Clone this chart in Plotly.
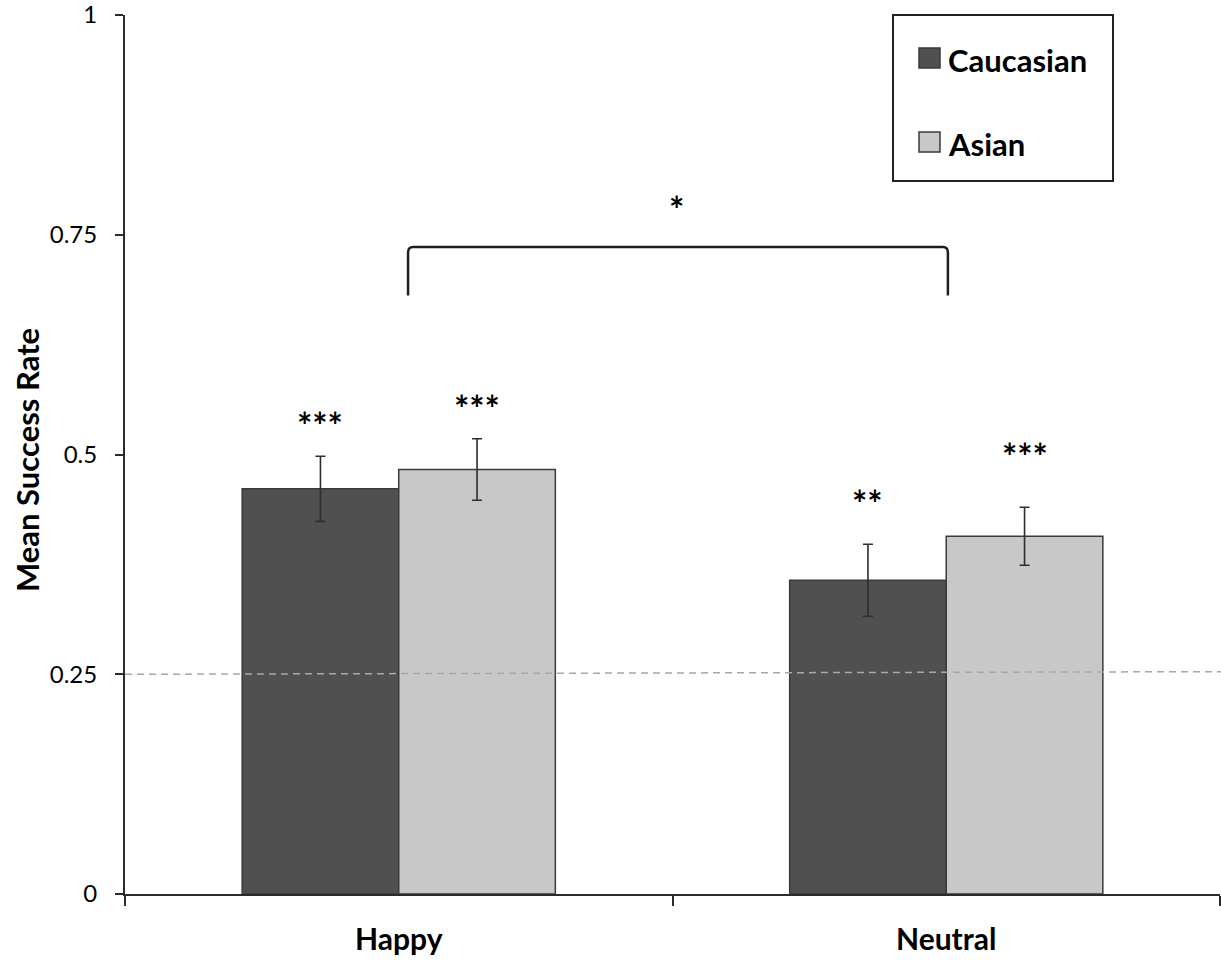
import plotly.graph_objects as go

# Mean success rate per expression, split by face group
categories = ["Happy", "Neutral"]
caucasian = [0.461, 0.357]
asian = [0.483, 0.407]
caucasian_err = [0.037, 0.041]
asian_err = [0.035, 0.033]
caucasian_sig = ["***", "**"]
asian_sig = ["***", "***"]
series_names = ["Caucasian", "Asian"]
y_ticks = [0, 0.25, 0.5, 0.75, 1]
y_tick_labels = ["0", "0.25", "0.5", "0.75", "1"]
chance_level = 0.25
bracket_label = "*"

colors = ["#505050", "#c8c8c8"]
outline = "#3a3a3a"
axis_color = "#2b2b2b"
font_family = "Lato, 'Open Sans', sans-serif"

# plot area in pixels
L, R, T, B = 125, 1220, 15, 894
W_PX, H_PX = 1221, 962

fig = go.Figure()
for name, vals, errs, col in zip(series_names, [caucasian, asian],
                                 [caucasian_err, asian_err], colors):
    fig.add_trace(go.Bar(
        name=name, x=categories, y=vals,
        marker=dict(color=col, line=dict(color=outline, width=1.5)),
        error_y=dict(type="data", array=errs, visible=True,
                     color="#2e2e2e", thickness=1.6, width=5),
        showlegend=False,
    ))

# significance stars above each bar
label_gap = [[0.045, 0.056], [0.044, 0.067]]
bar_offset = [-0.143, 0.143]
for s, (vals, errs, sigs) in enumerate([(caucasian, caucasian_err, caucasian_sig),
                                        (asian, asian_err, asian_sig)]):
    for i, cat in enumerate(categories):
        fig.add_annotation(
            x=i + bar_offset[s], y=vals[i] + errs[i] + label_gap[s][i],
            xref="x", yref="y", text=f"<b>{sigs[i]}</b>", showarrow=False,
            font=dict(family=font_family, size=36, color="black"),
            yanchor="middle", yshift=-8,
        )

# chance-level dashed reference line
fig.add_shape(type="line", xref="paper", yref="y", x0=0.0, x1=1.001,
              y0=chance_level, y1=chance_level + 0.003,
              line=dict(color="#a8a8a8", width=1.5, dash="7px,5px"),
              layer="above")

# comparison bracket between the two expressions
xl, xr, yt, yb = 0.017, 1.003, 0.736, 0.681
rx, ry = 0.009, 0.006
path = (f"M {xl},{yb} L {xl},{yt - ry} Q {xl},{yt} {xl + rx},{yt} "
        f"L {xr - rx},{yt} Q {xr},{yt} {xr},{yt - ry} L {xr},{yb}")
fig.add_shape(type="path", xref="x", yref="y", path=path,
              line=dict(color="#1e1e1e", width=2.5))
fig.add_annotation(x=0.508, y=0.789, xref="x", yref="y",
                   text=f"<b>{bracket_label}</b>",
                   showarrow=False, yanchor="middle", yshift=-8,
                   font=dict(family=font_family, size=36, color="black"))


def px_x(p):
    return (p - L) / (R - L)


def px_y(p):
    return (B - p) / (B - T)


# legend box
fig.add_shape(type="rect", xref="paper", yref="paper",
              x0=px_x(893), x1=px_x(1113), y0=px_y(181), y1=px_y(15),
              line=dict(color="#222222", width=2), fillcolor="white")
for name, col, cy in zip(series_names, colors, [58, 142]):
    fig.add_shape(type="rect", xref="paper", yref="paper",
                  x0=px_x(919), x1=px_x(940), y0=px_y(cy + 10), y1=px_y(cy - 10),
                  line=dict(color=outline, width=1.5), fillcolor=col)
    fig.add_annotation(x=px_x(946), y=px_y(cy + 2), xref="paper", yref="paper",
                       text=f"<b>{name}</b>", showarrow=False,
                       xanchor="left", yanchor="middle",
                       font=dict(family=font_family, size=31, color="black"))

# y-axis title
fig.add_annotation(x=px_x(27), y=px_y(460), xref="paper", yref="paper",
                   text="<b>Mean Success Rate</b>", textangle=-90,
                   showarrow=False, xanchor="center", yanchor="middle",
                   font=dict(family=font_family, size=31, color="black"))

fig.update_layout(
    width=W_PX, height=H_PX,
    margin=dict(l=L, r=W_PX - R, t=T, b=H_PX - B),
    plot_bgcolor="white", paper_bgcolor="white",
    barmode="group", bargap=0.428, bargroupgap=0,
    font=dict(family=font_family, color="black"),
    xaxis=dict(
        range=[-0.5, 1.5], showline=True, linecolor=axis_color, linewidth=2,
        ticks="outside", ticklen=10, tickwidth=1.5, tickcolor=axis_color,
        tickson="boundaries", showgrid=False, automargin=False,
        tickfont=dict(family=font_family, size=30, color="black"),
        ticklabelstandoff=18,
        tickvals=categories,
        ticktext=[f"<b>{c}</b>" for c in categories],
    ),
    yaxis=dict(
        range=[0, 1.0001], showline=True, linecolor=axis_color, linewidth=2,
        ticks="outside", ticklen=8, tickwidth=1.5, tickcolor=axis_color,
        tickvals=y_ticks, ticktext=y_tick_labels, showgrid=False, zeroline=False,
        automargin=False, ticklabeloverflow="allow",
        tickfont=dict(family=font_family, size=24, color="black"),
        ticklabelstandoff=13,
    ),
)

fig.write_html("out.html")
